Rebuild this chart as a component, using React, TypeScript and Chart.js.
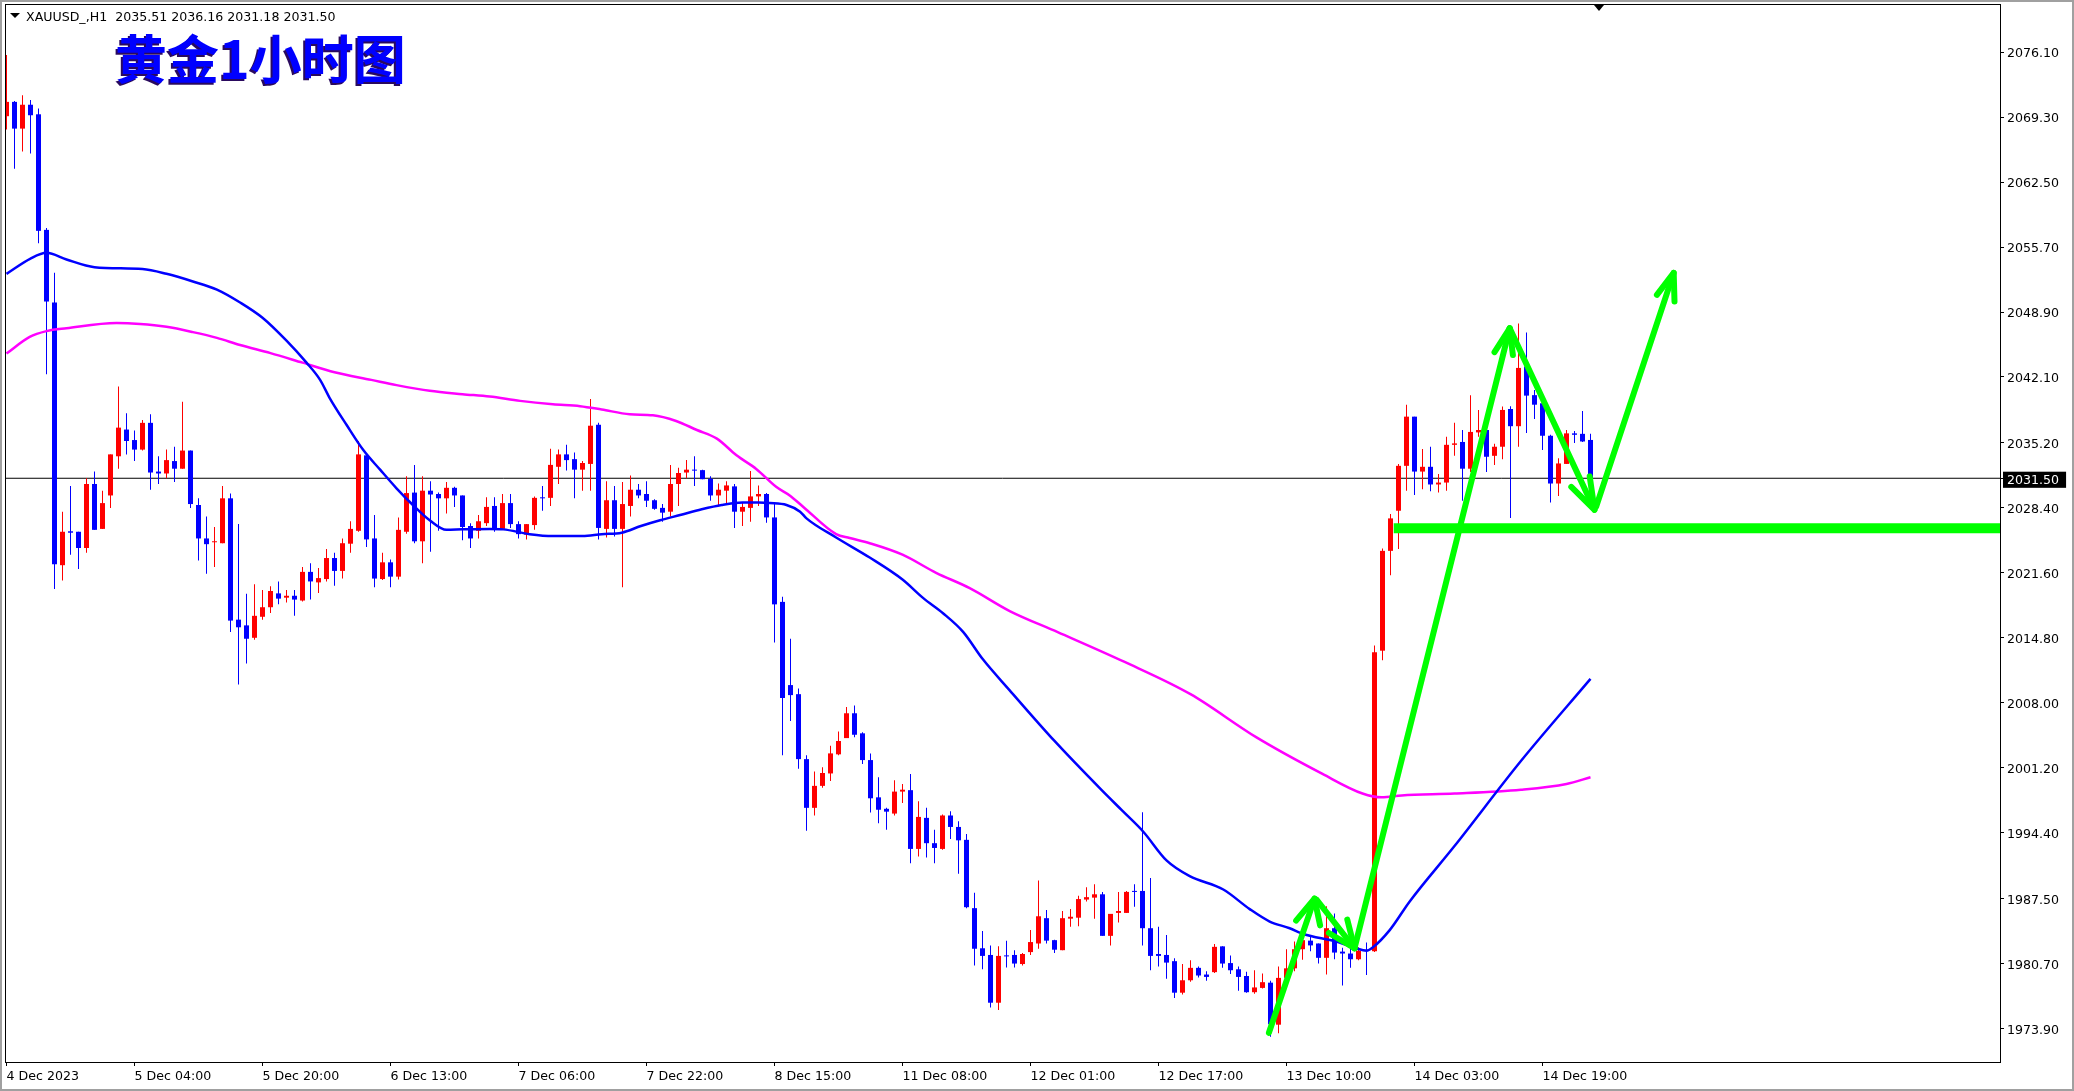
import React, { useEffect, useRef } from 'react';
import { Chart, registerables } from 'chart.js';

Chart.register(...registerables);

// ---------------- DATA ----------------
// XAUUSD H1 candles, bar index 0 = 4 Dec 11:00
const opens = [
  2069.40, 2070.90, 2068.10, 2070.60, 2069.60, 2057.50, 2049.90, 2022.40, 2025.95, 2025.90,
  2024.20, 2030.90, 2026.20, 2029.70, 2033.80, 2036.60, 2035.50, 2034.50, 2037.30, 2032.20,
  2032.00, 2033.30, 2032.50, 2034.40, 2028.70, 2025.20, 2024.80, 2024.70, 2029.40, 2016.70,
  2016.10, 2014.80, 2017.00, 2018.00, 2019.45, 2019.00, 2019.20, 2018.70, 2021.70, 2020.60,
  2020.95, 2023.15, 2021.80, 2024.65, 2026.00, 2033.90, 2025.20, 2020.95, 2022.70, 2021.20,
  2025.90, 2030.00, 2024.90, 2030.20, 2029.85, 2029.40, 2030.50, 2029.70, 2026.50, 2026.00,
  2026.80, 2028.60, 2026.20, 2028.90, 2026.70, 2025.60, 2026.60, 2029.50, 2029.45, 2032.70,
  2034.00, 2033.50, 2032.40, 2033.00, 2037.10, 2026.20, 2029.20, 2026.20, 2028.60, 2030.30,
  2029.85, 2029.20, 2028.40, 2028.00, 2030.90, 2032.10, 2032.40, 2032.35, 2031.45, 2029.70,
  2030.20, 2030.65, 2028.00, 2028.40, 2029.60, 2029.85, 2027.40, 2018.56, 2009.85, 2008.90,
  2002.10, 1997.00, 1999.30, 2000.60, 2002.60, 2004.30, 2006.90, 2004.80, 2002.00, 1998.10,
  1996.90, 1996.40, 1998.70, 1998.85, 1992.70, 1995.95, 1993.30, 1992.70, 1996.20, 1995.00,
  1993.65, 1986.50, 1982.30, 1981.60, 1976.60, 1981.55, 1981.60, 1980.65, 1981.90, 1982.80,
  1985.45, 1983.15, 1982.10, 1985.40, 1985.50, 1987.40, 1987.60, 1987.95, 1983.60, 1986.00,
  1986.00, 1988.30, 1988.30, 1984.40, 1981.70, 1981.60, 1980.95, 1977.65, 1978.95, 1980.25,
  1979.55, 1979.80, 1982.50, 1980.75, 1980.10, 1979.40, 1977.70, 1978.15, 1978.70, 1974.30,
  1979.20, 1980.20, 1982.20, 1983.10, 1982.80, 1981.30, 1984.40, 1981.95, 1981.75, 1981.15,
  1982.15, 1982.00, 2013.45, 2023.90, 2028.10, 2032.80, 2037.95, 2032.20, 2032.70, 2030.85,
  2031.05, 2035.00, 2035.30, 2032.50, 2036.30, 2036.55, 2033.85, 2034.80, 2038.75, 2036.95,
  2043.20, 2040.20, 2039.35, 2035.95, 2030.95, 2033.00, 2036.20, 2036.15, 2035.51,
];

const highs = [
  2075.80, 2071.00, 2071.60, 2071.10, 2070.20, 2057.70, 2053.00, 2028.00, 2030.70, 2025.90,
  2031.50, 2032.20, 2030.20, 2034.00, 2041.10, 2038.30, 2036.50, 2037.60, 2038.20, 2033.80,
  2034.50, 2034.80, 2039.50, 2034.40, 2029.40, 2027.50, 2026.40, 2030.70, 2029.90, 2026.70,
  2019.40, 2020.40, 2019.80, 2020.20, 2020.70, 2019.80, 2019.80, 2022.20, 2022.60, 2022.10,
  2024.10, 2023.70, 2025.20, 2027.00, 2035.40, 2033.95, 2027.65, 2023.70, 2023.00, 2027.40,
  2031.70, 2032.90, 2031.70, 2031.20, 2030.00, 2031.10, 2030.60, 2029.70, 2026.80, 2027.65,
  2029.50, 2029.50, 2029.85, 2029.85, 2027.00, 2026.70, 2029.60, 2030.70, 2034.60, 2034.50,
  2035.00, 2034.20, 2033.30, 2039.80, 2037.30, 2031.20, 2030.70, 2031.10, 2031.80, 2030.90,
  2031.20, 2029.30, 2028.80, 2032.90, 2032.60, 2033.40, 2033.80, 2032.40, 2031.70, 2030.96,
  2031.20, 2030.90, 2028.90, 2032.25, 2030.75, 2029.95, 2028.84, 2019.10, 2014.70, 2009.50,
  2002.50, 2000.80, 2001.25, 2003.50, 2005.00, 2007.55, 2007.70, 2004.90, 2002.70, 2000.20,
  1997.00, 1999.90, 1999.50, 2000.55, 1997.70, 1997.00, 1994.70, 1996.30, 1996.65, 1995.60,
  1994.25, 1988.10, 1984.10, 1982.60, 1982.50, 1983.10, 1982.10, 1981.80, 1984.20, 1989.40,
  1986.30, 1983.20, 1986.20, 1986.40, 1987.80, 1988.70, 1989.00, 1988.20, 1985.90, 1988.20,
  1988.30, 1989.00, 1996.55, 1989.65, 1984.55, 1983.70, 1981.25, 1980.65, 1981.05, 1980.40,
  1979.90, 1982.75, 1982.50, 1981.55, 1980.40, 1979.85, 1980.00, 1979.65, 1978.90, 1980.40,
  1982.20, 1983.00, 1983.40, 1983.60, 1982.80, 1986.70, 1985.95, 1982.35, 1982.40, 1982.40,
  1982.90, 2014.00, 2024.15, 2027.75, 2033.00, 2039.20, 2037.95, 2034.55, 2034.80, 2031.95,
  2035.85, 2037.30, 2036.55, 2040.20, 2038.65, 2036.60, 2035.10, 2039.00, 2039.05, 2047.70,
  2046.75, 2040.75, 2039.70, 2036.05, 2033.60, 2036.55, 2036.45, 2038.55, 2036.16,
];

const lows = [
  2068.00, 2063.90, 2065.70, 2065.50, 2056.10, 2042.40, 2019.90, 2020.80, 2023.50, 2022.00,
  2023.70, 2026.10, 2026.20, 2028.40, 2032.50, 2034.00, 2033.30, 2034.40, 2030.30, 2030.90,
  2031.50, 2031.10, 2032.50, 2028.40, 2022.90, 2021.50, 2022.20, 2024.70, 2015.40, 2009.90,
  2012.10, 2014.60, 2016.70, 2017.40, 2018.30, 2018.50, 2017.10, 2018.60, 2018.80, 2019.50,
  2020.70, 2020.25, 2021.00, 2023.70, 2025.90, 2024.30, 2020.10, 2020.85, 2020.10, 2020.90,
  2025.70, 2024.70, 2022.60, 2023.80, 2026.00, 2027.80, 2028.50, 2025.00, 2024.20, 2025.20,
  2026.50, 2025.90, 2026.20, 2026.30, 2025.20, 2025.10, 2026.10, 2028.10, 2028.60, 2030.90,
  2032.30, 2029.40, 2030.20, 2030.20, 2025.10, 2025.30, 2025.40, 2020.10, 2027.50, 2029.40,
  2028.50, 2028.20, 2026.95, 2027.50, 2028.60, 2031.50, 2030.70, 2031.40, 2029.15, 2028.70,
  2028.80, 2026.30, 2026.50, 2026.95, 2028.60, 2026.85, 2014.30, 2002.50, 2006.10, 2001.10,
  1994.60, 1996.20, 1999.10, 1999.80, 2002.50, 2004.30, 2004.40, 2001.60, 1996.50, 1995.40,
  1994.70, 1996.20, 1997.50, 1991.20, 1991.90, 1991.80, 1991.20, 1992.60, 1993.75, 1990.10,
  1986.50, 1980.50, 1980.10, 1976.10, 1975.85, 1980.30, 1980.30, 1980.50, 1981.60, 1982.25,
  1982.80, 1981.80, 1982.10, 1984.55, 1984.60, 1987.20, 1985.40, 1983.60, 1982.60, 1985.00,
  1986.00, 1986.65, 1982.60, 1980.00, 1980.40, 1979.10, 1977.10, 1977.45, 1978.80, 1979.25,
  1978.90, 1979.70, 1980.25, 1979.60, 1977.85, 1977.65, 1977.55, 1978.10, 1973.05, 1973.40,
  1978.90, 1979.90, 1981.10, 1982.00, 1980.70, 1979.55, 1981.15, 1978.40, 1980.25, 1981.05,
  1979.50, 1981.90, 2012.45, 2021.35, 2024.10, 2030.20, 2029.75, 2030.35, 2030.15, 2030.00,
  2030.20, 2033.85, 2029.15, 2032.15, 2035.85, 2032.15, 2032.90, 2033.50, 2027.35, 2034.80,
  2036.25, 2037.70, 2034.45, 2028.95, 2029.65, 2033.00, 2035.20, 2035.30, 2031.18,
];

const closes = [
  2070.90, 2068.10, 2070.60, 2069.50, 2057.40, 2050.00, 2022.50, 2025.90, 2025.80, 2024.20,
  2030.90, 2026.10, 2028.90, 2034.00, 2036.80, 2035.40, 2034.50, 2037.30, 2032.10, 2032.00,
  2033.40, 2032.50, 2034.40, 2028.80, 2025.20, 2024.60, 2024.90, 2029.40, 2016.60, 2015.90,
  2014.70, 2017.10, 2018.00, 2019.70, 2018.90, 2019.20, 2018.80, 2021.70, 2020.70, 2021.05,
  2023.15, 2021.80, 2024.70, 2026.20, 2034.00, 2025.10, 2021.00, 2022.70, 2021.20, 2026.10,
  2029.95, 2024.90, 2030.20, 2029.80, 2029.40, 2030.50, 2029.70, 2026.40, 2025.20, 2027.00,
  2028.50, 2026.20, 2028.90, 2026.70, 2025.65, 2026.70, 2029.45, 2029.40, 2032.90, 2034.00,
  2033.40, 2032.40, 2033.10, 2037.00, 2026.30, 2029.20, 2026.20, 2028.80, 2030.30, 2029.70,
  2029.15, 2028.30, 2027.90, 2030.90, 2032.05, 2032.40, 2032.30, 2031.40, 2029.70, 2030.30,
  2030.75, 2028.00, 2028.50, 2029.60, 2029.85, 2027.40, 2018.30, 2008.50, 2008.80, 2002.10,
  1997.00, 1999.30, 2000.65, 2002.70, 2004.00, 2006.90, 2004.65, 2002.00, 1998.00, 1996.80,
  1996.60, 1998.70, 1998.90, 1992.70, 1996.05, 1993.30, 1992.80, 1996.20, 1995.00, 1993.60,
  1986.60, 1982.25, 1981.50, 1976.60, 1981.50, 1981.45, 1980.70, 1981.70, 1982.95, 1985.65,
  1983.10, 1982.15, 1985.45, 1985.60, 1987.45, 1987.65, 1987.95, 1983.60, 1985.90, 1986.20,
  1988.20, 1988.20, 1984.40, 1981.50, 1981.50, 1980.80, 1977.65, 1978.95, 1980.25, 1979.45,
  1979.30, 1982.45, 1980.70, 1980.00, 1979.30, 1977.70, 1978.20, 1978.75, 1974.35, 1979.20,
  1980.20, 1982.20, 1983.15, 1982.60, 1981.30, 1984.40, 1981.85, 1981.75, 1981.15, 1982.05,
  1982.05, 2013.30, 2023.90, 2027.30, 2032.80, 2037.95, 2032.20, 2032.70, 2030.85, 2031.05,
  2035.00, 2035.15, 2032.50, 2036.35, 2036.55, 2033.75, 2034.80, 2038.65, 2036.95, 2043.05,
  2040.15, 2039.20, 2035.95, 2030.95, 2033.05, 2036.20, 2036.05, 2035.35, 2031.50,
];

// Moving averages: [bar index, price]
const maFastPoints: number[][] = [
  [0, 2052.9], [3, 2054.5], [5, 2055.1], [7.5, 2054.4], [11, 2053.6], [17, 2053.4], [20, 2052.9],
  [23.3, 2052.1], [26.3, 2051.25], [29.2, 2049.9], [32, 2048.3], [35, 2045.9], [37.5, 2043.6],
  [39.2, 2041.8], [40.4, 2039.9], [42.5, 2037.1], [44.6, 2034.45], [46.7, 2032.4], [48.75, 2030.45],
  [50.8, 2028.7], [52.9, 2027.1], [55, 2026.1], [57, 2026.15], [60.4, 2026.2], [62.1, 2026.15],
  [65.4, 2025.65], [68.3, 2025.45], [72, 2025.45], [74.4, 2025.65], [76.9, 2025.8], [79.3, 2026.5],
  [81.7, 2027.1], [84.2, 2027.65], [86.9, 2028.25], [89.4, 2028.7], [92, 2028.95], [94, 2028.95],
  [95.4, 2028.9], [97.5, 2028.7], [99.2, 2028.0], [100, 2027.3], [103.7, 2025.3], [107.9, 2023.2],
  [112, 2020.9], [114.6, 2018.95], [117.1, 2017.35], [119.6, 2015.4], [122, 2012.6], [125.4, 2009.3],
  [131, 2004.0], [136.9, 1998.85], [139.6, 1996.6], [142.1, 1994.5], [145, 1991.5], [147.9, 1989.85],
  [152.1, 1988.45], [155.4, 1986.4], [157.9, 1985.1], [160.4, 1984.4], [162.1, 1983.8], [166.2, 1983.0],
  [168.7, 1982.3], [170, 1982.05], [170.8, 1982.4], [172.9, 1984.2], [175.4, 1987.2], [181, 1993.0],
  [189.3, 2001.9], [198, 2010.5],
];

const maSlowPoints: number[][] = [
  [0, 2044.55], [2.9, 2046.3], [5, 2046.9], [7.5, 2047.2], [13.75, 2047.75], [16.7, 2047.65],
  [20, 2047.35], [23.3, 2046.8], [26.3, 2046.2], [29.2, 2045.45], [33, 2044.6], [37, 2043.6],
  [41, 2042.6], [45.6, 2041.8], [48.75, 2041.25], [52.9, 2040.65], [57, 2040.3], [60.4, 2040.05],
  [64.2, 2039.6], [68.3, 2039.25], [71.7, 2039.05], [74.4, 2038.7], [77.9, 2038.2], [80.8, 2038.1],
  [83.7, 2037.5], [86.3, 2036.55], [88.8, 2035.65], [91.25, 2033.9], [93.75, 2032.45], [96.2, 2030.6],
  [97.9, 2029.7], [99.6, 2028.5], [103.7, 2025.65], [105.4, 2025.25], [107.9, 2024.7], [112, 2023.5],
  [116.2, 2021.6], [120.4, 2020.0], [125.4, 2017.6], [131.4, 2015.4], [139.7, 2012.3], [148, 2008.9],
  [156.2, 2004.4], [164.5, 2000.55], [169.5, 1998.5], [171.9, 1998.1], [174.4, 1998.3], [181, 1998.5],
  [189.3, 1998.9], [195, 1999.5], [198, 2000.2],
];

// Hand-drawn green annotations: [bar index, price]
const arrowUp1 = [[157.8, 1973.45], [163.5, 1987.5]];
const arrowUp1Head = [[161.2, 1985.2], [163.5, 1987.5], [164.2, 1984.7]];
const arrowDown1 = [[163.8, 1987.35], [168.5, 1982.3]];
const arrowDown1Head = [[165.3, 1983.9], [168.5, 1982.3], [167.6, 1985.3]];
const arrowUp2 = [[168.5, 1982.3], [187.9, 2047.2]];
const arrowUp2Head = [[186.0, 2044.7], [187.9, 2047.2], [188.3, 2044.4]];
const arrowDown2 = [[187.9, 2047.2], [198.5, 2028.2]];
const arrowDown2Head = [[195.6, 2030.6], [198.5, 2028.2], [197.9, 2031.7]];
const arrowUp3 = [[198.7, 2028.5], [208.4, 2053.0]];
const arrowUp3Head = [[206.3, 2050.7], [208.4, 2053.0], [208.5, 2050.0]];
const supportLevel = 2026.26;
const supportStartBar = 173.4;

const currentPrice = 2031.5;

const yTickValues = [
  2076.10, 2069.30, 2062.50, 2055.70, 2048.90, 2042.10, 2035.20, 2028.40,
  2021.60, 2014.80, 2008.00, 2001.20, 1994.40, 1987.50, 1980.70, 1973.90,
];
const xTickBars = [0, 16, 32, 48, 64, 80, 96, 112, 128, 144, 160, 176, 192];
const xTickLabels = [
  '4 Dec 2023', '5 Dec 04:00', '5 Dec 20:00', '6 Dec 13:00', '7 Dec 06:00', '7 Dec 22:00',
  '8 Dec 15:00', '11 Dec 08:00', '12 Dec 01:00', '12 Dec 17:00', '13 Dec 10:00', '14 Dec 03:00',
  '14 Dec 19:00',
];

// ---------------- CHART ----------------
const W = 2074;
const H = 1091;
const X_MIN = -0.1875;
const X_MAX = 249.1875;
const Y_MIN = 1970.395;
const Y_MAX = 2081.145;

const UP = '#ff0000';
const DOWN = '#0000ff';
const GREEN = '#00ff00';
const FONT = 'DejaVu Sans';
const AXIS_FONT_SIZE = 12.6;

const toXY = (pts: number[][]) => pts.map(([x, y]) => ({ x, y }));
const candleColor = (ctx: any) => (closes[ctx.dataIndex] >= opens[ctx.dataIndex] ? UP : DOWN);

const framePlugin = {
  id: 'frame',
  afterDatasetsDraw(chart: any) {
    const { ctx, chartArea: a } = chart;
    ctx.save();
    ctx.strokeStyle = '#000';
    ctx.lineWidth = 1;
    ctx.strokeRect(Math.round(a.left) + 0.5, Math.round(a.top) + 0.5, Math.round(a.right - a.left), Math.round(a.bottom - a.top));
    ctx.restore();
  },
};

function buildConfig(): any {
  const idx = opens.map((_, i) => i);
  const wickData = idx.map((i) => ({ x: i, y: [lows[i], highs[i]] }));
  const bodyData = idx.map((i) => ({ x: i, y: [opens[i], closes[i]] }));

  const greenLine = (pts: number[][], width = 6, cap = 'round') => ({
    type: 'line',
    data: toXY(pts),
    borderColor: GREEN,
    borderWidth: width,
    borderCapStyle: cap,
    borderJoinStyle: 'round',
    pointRadius: 0,
    tension: 0,
    order: 0,
  });

  const greens = [
    greenLine([[supportStartBar, supportLevel], [X_MAX, supportLevel]], 10, 'butt'),
    greenLine(arrowUp1), greenLine(arrowUp1Head),
    greenLine(arrowDown1), greenLine(arrowDown1Head),
    greenLine(arrowUp2), greenLine(arrowUp2Head),
    greenLine(arrowDown2), greenLine(arrowDown2Head),
    greenLine(arrowUp3), greenLine(arrowUp3Head),
  ];

  const gridOpts = { display: true, drawOnChartArea: false, drawTicks: true, tickLength: 4, color: '#000', lineWidth: 1, offset: false };

  return {
    type: 'bar',
    data: {
      datasets: [
        ...greens,
        {
          type: 'line', data: toXY(maFastPoints), borderColor: '#0000ff', borderWidth: 2.5,
          pointRadius: 0, cubicInterpolationMode: 'monotone', order: 1,
        },
        {
          type: 'line', data: toXY(maSlowPoints), borderColor: '#ff00ff', borderWidth: 2.5,
          pointRadius: 0, cubicInterpolationMode: 'monotone', order: 1,
        },
        {
          type: 'bar', data: bodyData, backgroundColor: candleColor, barThickness: 5,
          grouped: false, inflateAmount: 0, minBarLength: 1, borderWidth: 0, order: 2,
        },
        {
          type: 'bar', data: wickData, backgroundColor: candleColor, barThickness: 1,
          grouped: false, inflateAmount: 0, borderWidth: 0, order: 3,
        },
        {
          type: 'line', data: [{ x: X_MIN, y: currentPrice }, { x: X_MAX, y: currentPrice }],
          borderColor: '#000', borderWidth: 1, pointRadius: 0, order: 4,
        },
      ],
    },
    options: {
      responsive: false,
      animation: false,
      devicePixelRatio: 1,
      events: [],
      layout: { padding: { left: 5, top: 4, right: 0, bottom: 0 } },
      plugins: { legend: { display: false }, tooltip: { enabled: false } },
      scales: {
        x: {
          type: 'linear', position: 'bottom', min: X_MIN, max: X_MAX, offset: false,
          grid: gridOpts,
          border: { display: true, color: '#000', width: 1 },
          ticks: {
            autoSkip: false, maxRotation: 0, minRotation: 0, align: 'start', padding: 3,
            color: '#000', font: { family: FONT, size: AXIS_FONT_SIZE },
            callback: (_v: any, i: number) => xTickLabels[i] ?? '',
          },
          afterBuildTicks: (s: any) => { s.ticks = xTickBars.map((v) => ({ value: v })); },
          afterFit: (s: any) => { s.height = 29; s.paddingLeft = 0; s.paddingRight = 0; },
        },
        y: {
          type: 'linear', position: 'right', min: Y_MIN, max: Y_MAX, beginAtZero: false,
          grid: gridOpts,
          border: { display: true, color: '#000', width: 1 },
          ticks: {
            autoSkip: false, padding: 3, crossAlign: 'near', labelOffset: 2,
            font: { family: FONT, size: AXIS_FONT_SIZE },
            color: (c: any) => (c.tick && c.tick.value === currentPrice ? '#ffffff' : '#000000'),
            showLabelBackdrop: (c: any) => !!(c.tick && c.tick.value === currentPrice),
            backdropColor: '#000000',
            backdropPadding: { left: 4, right: 7, top: 1, bottom: 0 },
            callback: (v: any) => Number(v).toFixed(2),
          },
          afterBuildTicks: (s: any) => {
            s.ticks = [...yTickValues, currentPrice].sort((a, b) => a - b).map((v) => ({ value: v }));
          },
          afterFit: (s: any) => { s.width = 74; s.paddingTop = 0; s.paddingBottom = 0; },
        },
      },
    },
    plugins: [framePlugin],
  };
}

export default function App() {
  const canvasRef = useRef<HTMLCanvasElement>(null);

  useEffect(() => {
    if (!canvasRef.current) return;
    const chart = new Chart(canvasRef.current, buildConfig());
    return () => chart.destroy();
  }, []);

  const last = opens.length - 1;
  const headerText = `XAUUSD_,H1  ${opens[last].toFixed(2)} ${highs[last].toFixed(2)} ${lows[last].toFixed(2)} ${closes[last].toFixed(2)}`;

  return (
    <div style={{ position: 'fixed', left: 0, top: 0, width: W, height: H, background: '#ffffff', overflow: 'hidden' }}>
      <canvas ref={canvasRef} width={W} height={H} style={{ position: 'absolute', left: 0, top: 0, width: W, height: H, display: 'block' }} />
      <div style={{ position: 'absolute', left: 10, top: 13, width: 0, height: 0, borderLeft: '5px solid transparent', borderRight: '5px solid transparent', borderTop: '5px solid #000' }} />
      <div style={{ position: 'absolute', left: 26, top: 10, fontFamily: FONT, fontSize: 12.6, lineHeight: '14px', color: '#000', whiteSpace: 'pre' }}>{headerText}</div>
      <div style={{ position: 'absolute', left: 115, top: 31, fontFamily: "'Noto Sans CJK SC'", fontWeight: 700, fontSize: 52, lineHeight: '52px', color: '#0000ff', textShadow: '-2px 2px 0 #2a0a5e', whiteSpace: 'nowrap' }}>黄金1小时图</div>
      <div style={{ position: 'absolute', left: 1594, top: 5, width: 0, height: 0, borderLeft: '5px solid transparent', borderRight: '5px solid transparent', borderTop: '6px solid #000' }} />
      <div style={{ position: 'absolute', left: 0, top: 0, width: W, height: H, border: '2px solid #a0a0a0', boxSizing: 'border-box', pointerEvents: 'none' }} />
    </div>
  );
}
